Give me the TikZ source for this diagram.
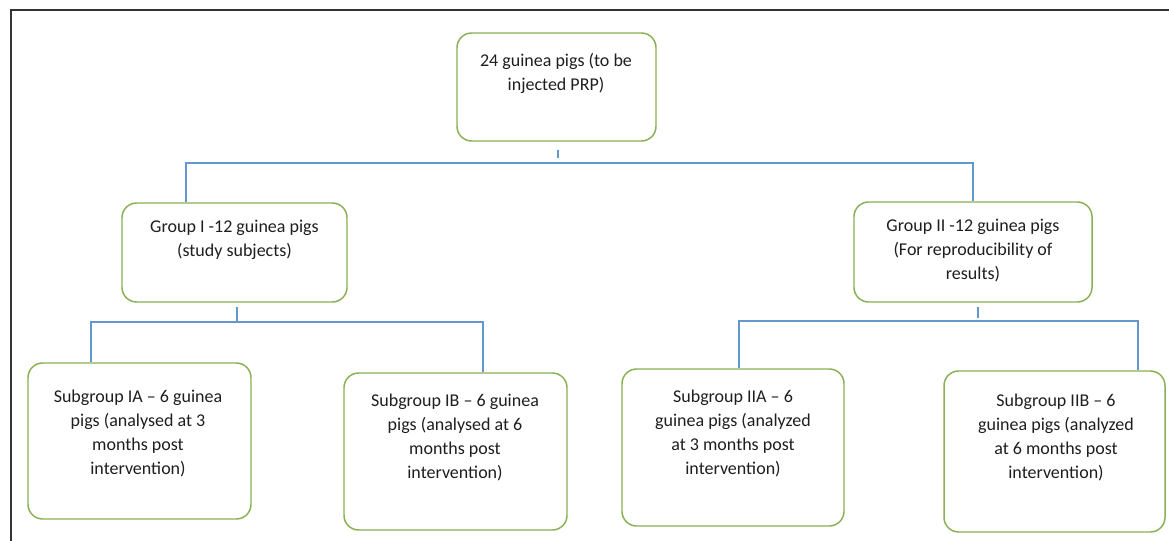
\documentclass[tikz,border=0pt]{standalone}
\usepackage{fontspec}
\setmainfont{Carlito}
\definecolor{boxgreen}{RGB}{137,176,84}
\definecolor{lineblue}{RGB}{100,152,204}
\definecolor{txt}{RGB}{30,30,30}
\begin{document}
\begin{tikzpicture}[x=0.75pt,y=-0.75pt,
  gbox/.style={draw=boxgreen,line width=1.1pt,rounded corners=11pt,inner sep=0pt},
  lbl/.style={align=center,text=txt,inner sep=0pt,font=\fontsize{13.5pt}{18pt}\selectfont},
  conn/.style={draw=lineblue,line width=1.1pt}]
\useasboundingbox (0,0) rectangle (1169,541);
% frame (top and left edges visible)
\coordinate (fbl) at (11,541);
\coordinate (ftl) at (11,10);
\coordinate (ftr) at (1169,10);
\draw[line width=1.2pt,black!80] (fbl) -- (ftl) -- (ftr);
% boxes
\node[gbox,minimum width=199*0.75pt,minimum height=108*0.75pt] (top) at (556.5,87) {};
\node[gbox,minimum width=225*0.75pt,minimum height=99*0.75pt] (g1) at (234.5,252.5) {};
\node[gbox,minimum width=238*0.75pt,minimum height=100*0.75pt] (g2) at (973,252) {};
\node[gbox,minimum width=223*0.75pt,minimum height=156*0.75pt] (ia) at (139.5,441) {};
\node[gbox,minimum width=223*0.75pt,minimum height=157*0.75pt] (ib) at (455.5,451.5) {};
\node[gbox,minimum width=222*0.75pt,minimum height=157*0.75pt] (iia) at (733,447.5) {};
\node[gbox,minimum width=221*0.75pt,minimum height=161*0.75pt] (iib) at (1054.5,451.5) {};
% texts
\node[lbl] (ttop) at (556,73) {24 guinea pigs (to be\\injected PRP)};
\node[lbl] (tg1) at (234.5,240) {Group I -12 guinea pigs\\(study subjects)};
\node[lbl] (tg2) at (973,251) {Group II -12 guinea pigs\\(For reproducibility of\\results)};
\node[lbl] (tia) at (138,433) {Subgroup IA -- 6 guinea\\pigs (analysed at 3\\months post\\intervention)};
\node[lbl] (tib) at (455,437.5) {Subgroup IB -- 6 guinea\\pigs (analysed at 6\\months post\\intervention)};
\node[lbl] (tiia) at (733,433) {Subgroup IIA -- 6\\guinea pigs (analyzed\\at 3 months post\\intervention)};
\node[lbl] (tiib) at (1056,437) {Subgroup IIB -- 6\\guinea pigs (analyzed\\at 6 months post\\intervention)};
% connector coordinates
\coordinate (s0a) at (558,150);
\coordinate (s0b) at (558,158);
\coordinate (h0l) at (186,163);
\coordinate (h0r) at (973,163);
\coordinate (s1a) at (237,307);
\coordinate (s1b) at (237,321);
\coordinate (h1l) at (91,322);
\coordinate (h1r) at (483,322);
\coordinate (s2a) at (978,307);
\coordinate (s2b) at (978,318);
\coordinate (h2l) at (739,321);
\coordinate (h2r) at (1138,321);
% connectors
\draw[conn] (s0a) -- (s0b);
\draw[conn] (g1.north -| h0l) -- (h0l) -- (h0r) -- (g2.north -| h0r);
\draw[conn] (s1a) -- (s1b);
\draw[conn] (ia.north -| h1l) -- (h1l) -- (h1r) -- (ib.north -| h1r);
\draw[conn] (s2a) -- (s2b);
\draw[conn] (iia.north -| h2l) -- (h2l) -- (h2r) -- (iib.north -| h2r);
\end{tikzpicture}
\end{document}
